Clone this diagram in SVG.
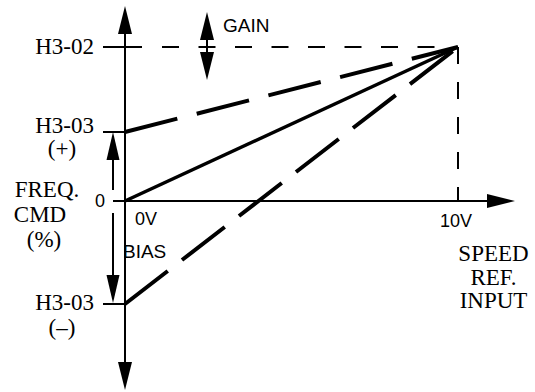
<svg xmlns="http://www.w3.org/2000/svg" width="535" height="392" viewBox="0 0 535 392">
<style>
.ax{stroke:#000;stroke-width:2;fill:none}
.thin{stroke:#000;stroke-width:2;fill:none}
.dsh{stroke:#000;stroke-width:2;fill:none}
.thick{stroke:#000;stroke-width:4;fill:none}
.sol{stroke:#000;stroke-width:3.5;fill:none}
.hd{fill:#000;stroke:none}
.serif{font-family:"Liberation Serif","Times New Roman",serif;font-size:23px;fill:#000}
.sans{font-family:"Liberation Sans",Arial,sans-serif;font-size:18px;fill:#000}
</style>
<rect width="535" height="392" fill="#fff"/>
<g id="axes">
<line class="ax" x1="125" y1="30" x2="125" y2="366"/>
<polygon class="hd" points="125,6 118,34 132,34"/>
<polygon class="hd" points="125,390 118,362 132,362"/>
<line class="ax" x1="113" y1="201" x2="490" y2="201"/>
<polygon class="hd" points="515,201 487,194 487,208"/>
<line class="thin" x1="103" y1="47" x2="142" y2="47"/>
<line class="thin" x1="103" y1="132" x2="125" y2="132"/>
<line class="thin" x1="103" y1="304" x2="125" y2="304"/>
<line class="thin" x1="458" y1="193" x2="458" y2="201"/>
</g>
<g id="guides">
<line class="dsh" x1="162" y1="47" x2="458" y2="47" stroke-dasharray="17 19.5"/>
<line class="dsh" x1="458" y1="47" x2="458" y2="201" stroke-dasharray="17 18"/>
</g>
<g id="curves">
<line class="sol" x1="125" y1="201" x2="458" y2="47"/>
<line class="thick" x1="125" y1="132" x2="458" y2="47" stroke-dasharray="54 20"/>
<line class="thick" x1="125" y1="304" x2="458" y2="47" stroke-dasharray="54 18"/>
</g>
<g id="bias-arrow">
<line class="thin" x1="113" y1="158" x2="113" y2="190"/>
<polygon class="hd" points="113,132 106.5,160 119.5,160"/>
<line class="thin" x1="113" y1="213" x2="113" y2="277"/>
<polygon class="hd" points="113,303 106.5,275 119.5,275"/>
</g>
<g id="gain-arrow">
<line class="thin" x1="207" y1="38" x2="207" y2="54"/>
<polygon class="hd" points="207,12 200,40 214,40"/>
<polygon class="hd" points="207,80 200,52 214,52"/>
</g>
<g id="labels">
<text class="serif" x="94" y="54" text-anchor="end">H3-02</text>
<text class="serif" x="94" y="133" text-anchor="end">H3-03</text>
<text class="serif" x="62" y="156" text-anchor="middle">(+)</text>
<text class="serif" x="47" y="197" text-anchor="middle">FREQ.</text>
<text class="serif" x="40" y="222" text-anchor="middle">CMD</text>
<text class="serif" x="44" y="247" text-anchor="middle">(%)</text>
<text class="serif" x="94" y="310" text-anchor="end">H3-03</text>
<text class="serif" x="62" y="335" text-anchor="middle">(–)</text>
<text class="serif" x="493.5" y="261" text-anchor="middle">SPEED</text>
<text class="serif" x="493.5" y="285" text-anchor="middle">REF.</text>
<text class="serif" x="493.5" y="308" text-anchor="middle">INPUT</text>
<text class="sans" x="100" y="207" text-anchor="middle">0</text>
<text class="sans" x="135" y="225">0V</text>
<text class="sans" x="123" y="258" style="font-size:19px">BIAS</text>
<text class="sans" x="223" y="32" style="font-size:19px">GAIN</text>
<text class="sans" x="456" y="227" text-anchor="middle">10V</text>
</g>
</svg>
